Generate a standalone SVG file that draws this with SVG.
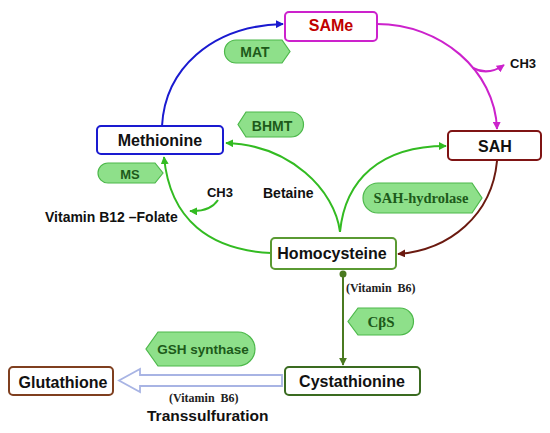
<svg xmlns="http://www.w3.org/2000/svg" width="550" height="433" viewBox="0 0 550 433">
<defs>
<style>
.node{fill:#fff;stroke-width:2}
.lbl{font-family:"Liberation Sans",Arial,sans-serif;font-weight:bold;font-size:16px;fill:#111;text-anchor:middle}
.tag{fill:#8ee08a;stroke:#4cb84a;stroke-width:1.2}
.tt{font-family:"Liberation Sans",Arial,sans-serif;font-weight:bold;font-size:14px;fill:#1d5a1a;text-anchor:middle}
.ts{font-family:"Liberation Serif","Times New Roman",serif;font-weight:bold;fill:#1d5a1a;text-anchor:middle}
.txt{font-family:"Liberation Sans",Arial,sans-serif;font-weight:bold;font-size:14px;fill:#111}
.sm{font-family:"Liberation Serif","Times New Roman",serif;font-weight:bold;font-size:12px;fill:#222}
.c{fill:none;stroke-width:2}
</style>
<marker id="aB" viewBox="0 0 10 10" refX="9" refY="5" markerWidth="4" markerHeight="4" orient="auto"><path d="M0,0L10,5L0,10z" fill="#1a1ad0"/></marker>
<marker id="aM" viewBox="0 0 10 10" refX="9" refY="5" markerWidth="4" markerHeight="4" orient="auto"><path d="M0,0L10,5L0,10z" fill="#cc22cc"/></marker>
<marker id="aG" viewBox="0 0 10 10" refX="9" refY="5" markerWidth="4" markerHeight="4" orient="auto"><path d="M0,0L10,5L0,10z" fill="#33bb22"/></marker>
<marker id="aR" viewBox="0 0 10 10" refX="9" refY="5" markerWidth="4" markerHeight="4" orient="auto"><path d="M0,0L10,5L0,10z" fill="#6b1a10"/></marker>
<marker id="aD" viewBox="0 0 10 10" refX="9" refY="5" markerWidth="4" markerHeight="4" orient="auto"><path d="M0,0L10,5L0,10z" fill="#4a7a20"/></marker>
</defs>
<rect width="550" height="433" fill="#fff"/>

<g id="connectors">
<path class="c" d="M162,126 C165,70 210,26 283,24" stroke="#1a1ad0" marker-end="url(#aB)"/>
<path class="c" d="M377,24 C440,24 495,70 497,129" stroke="#cc22cc" marker-end="url(#aM)"/>
<path class="c" d="M473,68 Q488,76 504,65" stroke="#cc22cc" marker-end="url(#aM)"/>
<path class="c" d="M497,161 C492,215 450,250 398,254" stroke="#6b1a10" marker-end="url(#aR)"/>
<path class="c" d="M340,232 C345,180 380,146 446,146" stroke="#33bb22" marker-end="url(#aG)"/>
<path class="c" d="M340,232 C335,190 290,145 226,143" stroke="#33bb22" marker-end="url(#aG)"/>
<path class="c" d="M271,253 C210,250 170,220 164,157" stroke="#33bb22" marker-end="url(#aG)"/>
<path class="c" d="M218,200 Q210,212 190,211" stroke="#33bb22" marker-end="url(#aG)"/>
<circle cx="343" cy="274" r="3.5" fill="#4a7a20"/>
<path class="c" d="M343,274 V365" stroke="#4a7a20" stroke-width="2.5" marker-end="url(#aD)"/>
<path d="M282,375 H140 V369 L119,380.5 L140,392 V386 H282 Z" fill="#fff" stroke="#a8b4e4" stroke-width="1.8"/>
</g>

<g id="SAMe"><rect class="node" x="285" y="12" width="92" height="29" rx="4" stroke="#cc22cc"/><text class="lbl" x="331" y="31" fill="#c00000" style="fill:#c00000">SAMe</text></g>
<g id="SAH"><rect class="node" x="448" y="131" width="93" height="29" rx="4" stroke="#7f1414"/><text class="lbl" x="495" y="152">SAH</text></g>
<g id="Methionine"><rect class="node" x="97" y="126" width="126" height="28" rx="4" stroke="#1a1ad0"/><text class="lbl" x="160" y="146">Methionine</text></g>
<g id="Homocysteine"><rect class="node" x="271" y="238" width="125" height="31" rx="4" stroke="#5a9a32"/><text class="lbl" x="332" y="259">Homocysteine</text></g>
<g id="Cystathionine"><rect class="node" x="285" y="367" width="135" height="28" rx="4" stroke="#3a6b20"/><text class="lbl" x="352" y="387">Cystathionine</text></g>
<g id="Glutathione"><rect class="node" x="9" y="367" width="104" height="28" rx="4" stroke="#7f3f1f"/><text class="lbl" x="63" y="388">Glutathione</text></g>

<g id="MAT"><path class="tag" d="M236,40 H282 L290,51.5 L282,63 H236 A11.5,11.5 0 0 1 236,40 Z"/><text class="tt" x="255" y="57">MAT</text></g>
<g id="BHMT"><path class="tag" d="M246,112 H291 A12.5,12.5 0 0 1 291,137 H246 L238,124.5 Z"/><text class="tt" x="272" y="131">BHMT</text></g>
<g id="MS"><path class="tag" d="M108,163 H155 L163,173 L155,183 H108 A10,10 0 0 1 108,163 Z"/><text class="tt" x="130" y="179" style="font-size:13px">MS</text></g>
<g id="SAH-hydrolase"><path class="tag" d="M378,183 H472 L482,198 L472,213 H378 A15,15 0 0 1 378,183 Z"/><text class="ts" x="421" y="203" style="font-size:14.5px">SAH-hydrolase</text></g>
<g id="CbS"><path class="tag" d="M358,308 H400 A13.5,13.5 0 0 1 400,335 H358 L348,321.5 Z"/><text class="ts" x="381" y="327" style="font-size:15px">CβS</text></g>
<g id="GSH"><path class="tag" d="M158,332 H238 A17,17 0 0 1 238,366 H158 L146,349 Z"/><text class="tt" x="203" y="354" style="font-size:13.5px">GSH synthase</text></g>

<g id="labels">
<text class="txt" x="510" y="68" style="font-size:13px">CH3</text>
<text class="txt" x="220" y="197" text-anchor="middle" style="font-size:13px">CH3</text>
<text class="txt" x="263" y="198">Betaine</text>
<text class="txt" x="45" y="222">Vitamin B12 –Folate</text>
<text class="sm" x="346" y="292" xml:space="preserve">(Vitamin  B6)</text>
<text class="sm" x="169" y="402" xml:space="preserve">(Vitamin  B6)</text>
<text class="txt" x="147" y="421" style="font-size:15.5px">Transsulfuration</text>
</g>
</svg>
